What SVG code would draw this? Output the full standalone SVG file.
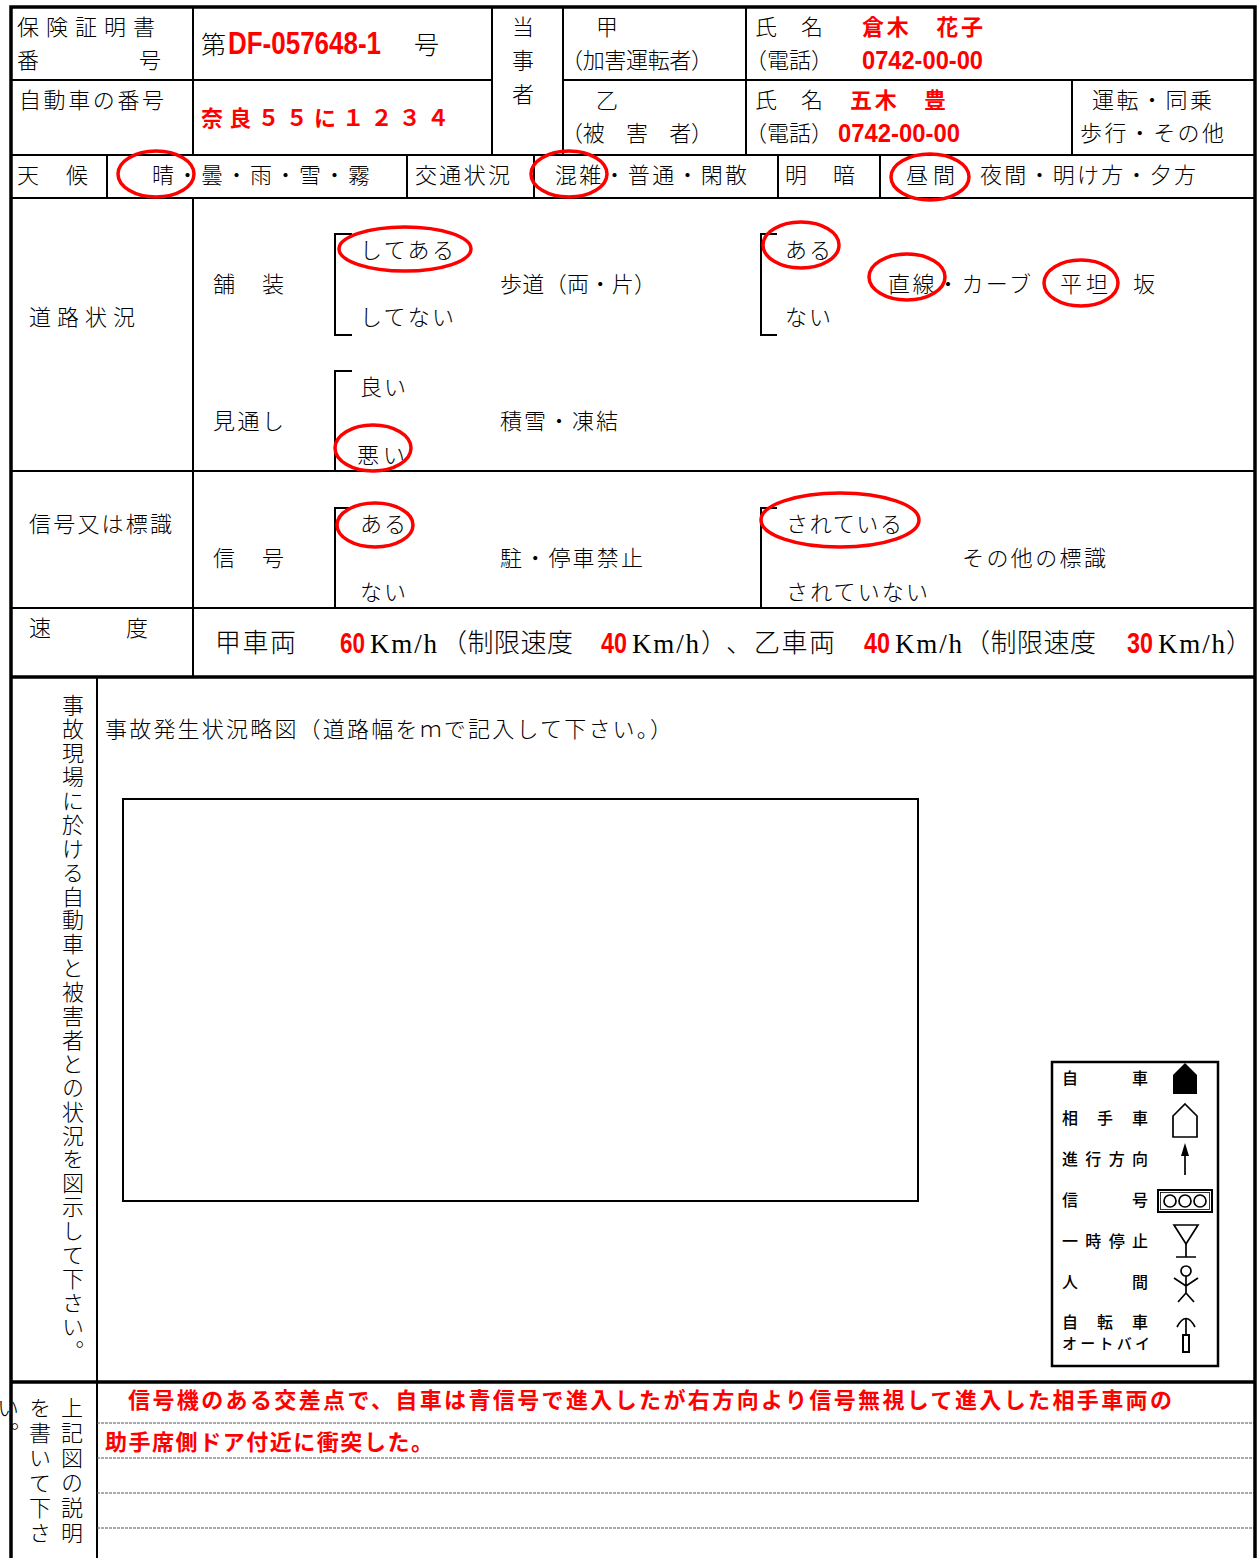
<svg xmlns="http://www.w3.org/2000/svg" width="1257" height="1558" viewBox="0 0 1257 1558">
<style>
.t{font-family:"Noto Sans CJK JP","Noto Sans",sans-serif;font-size:22px;font-weight:300;fill:#000}
.big{font-size:25px}
.s26{font-size:26px}
.rb{font-family:"Noto Sans CJK JP","Noto Sans",sans-serif;font-weight:700;fill:#f00;font-size:22px}
.nm{font-family:"Liberation Sans Narrow","Liberation Sans",sans-serif;font-weight:700;fill:#f00;font-size:29px}
.km{font-family:"Liberation Serif",serif;font-size:27px;fill:#000}
.lg{font-family:"Noto Sans CJK JP",sans-serif;font-size:16px;font-weight:500;fill:#000}
.v{writing-mode:vertical-rl}
.ln{stroke:#000;stroke-width:2;fill:none}
.tk{stroke:#000;stroke-width:3.5;fill:none}
.ov{fill:none;stroke:#f00;stroke-width:3.5}
.ds{stroke:#555;stroke-width:1;stroke-dasharray:3 1;fill:none}
.sym{fill:none;stroke:#000;stroke-width:1.7}
</style>
<rect width="1257" height="1558" fill="#fff"/>

<g id="rules">
  <line class="ln" x1="11" y1="80" x2="492" y2="80"/>
  <line class="ln" x1="563" y1="80" x2="1255" y2="80"/>
  <line class="ln" x1="11" y1="155" x2="1255" y2="155"/>
  <line class="ln" x1="11" y1="198" x2="1255" y2="198"/>
  <line class="ln" x1="11" y1="471" x2="1255" y2="471"/>
  <line class="ln" x1="11" y1="608" x2="1255" y2="608"/>
  <line class="tk" x1="11" y1="677" x2="1255" y2="677"/>
  <line class="tk" x1="11" y1="1382" x2="1255" y2="1382"/>
  <line class="ln" x1="193" y1="7" x2="193" y2="155"/>
  <line class="ln" x1="492" y1="7" x2="492" y2="155"/>
  <line class="ln" x1="563" y1="7" x2="563" y2="155"/>
  <line class="ln" x1="746" y1="7" x2="746" y2="155"/>
  <line class="ln" x1="1072" y1="80" x2="1072" y2="155"/>
  <line class="ln" x1="107" y1="155" x2="107" y2="198"/>
  <line class="ln" x1="407" y1="155" x2="407" y2="198"/>
  <line class="ln" x1="534" y1="155" x2="534" y2="198"/>
  <line class="ln" x1="778" y1="155" x2="778" y2="198"/>
  <line class="ln" x1="880" y1="155" x2="880" y2="198"/>
  <line class="ln" x1="193" y1="198" x2="193" y2="677"/>
  <line class="ln" x1="97" y1="677" x2="97" y2="1558"/>
  <line class="ds" x1="97" y1="1423" x2="1255" y2="1423"/>
  <line class="ds" x1="97" y1="1458" x2="1255" y2="1458"/>
  <line class="ds" x1="97" y1="1493" x2="1255" y2="1493"/>
  <line class="ds" x1="97" y1="1528" x2="1255" y2="1528"/>
  <path class="ln" d="M352,234 H335 V335 H352"/>
  <path class="ln" d="M352,371 H335 V471"/>
  <path class="ln" d="M352,508 H335 V608"/>
  <path class="ln" d="M777,234 H761 V335 H777"/>
  <path class="ln" d="M777,508 H761 V608"/>
  <rect class="ln" x="123" y="799" width="795" height="402"/>
</g>

<g id="header">
  <text class="t" x="17" y="35" letter-spacing="7">保険証明書</text>
  <text class="t" x="17" y="68">番</text>
  <text class="t" x="139" y="68">号</text>
  <text class="t big" x="201" y="54">第</text>
  <text class="nm" x="228" y="54" style="font-size:31px" textLength="153" lengthAdjust="spacingAndGlyphs">DF-057648-1</text>
  <text class="t big" x="414" y="54">号</text>
  <text class="t" x="19" y="108" textLength="145">自動車の番号</text>
  <text class="rb s26" x="201" y="126" textLength="248">奈良５５に１２３４</text>
  <text class="t" x="512" y="35">当</text>
  <text class="t" x="512" y="68">事</text>
  <text class="t" x="512" y="102">者</text>
  <text class="t" x="596" y="35">甲</text>
  <text class="t" x="561" y="68" textLength="152">（加害運転者）</text>
  <text class="t" x="596" y="108">乙</text>
  <text class="t" x="561" y="141" textLength="152">（被　害　者）</text>
  <text class="t" x="755" y="35" textLength="68">氏　名</text>
  <text class="rb" x="862" y="35" textLength="121">倉木　花子</text>
  <text class="t" x="745" y="68">（電話）</text>
  <text class="nm" x="862" y="69" style="font-size:26px" textLength="121" lengthAdjust="spacingAndGlyphs">0742-00-00</text>
  <text class="t" x="755" y="108" textLength="68">氏　名</text>
  <text class="rb" x="850" y="108" textLength="96">五木　豊</text>
  <text class="t" x="745" y="141">（電話）</text>
  <text class="nm" x="838" y="142" style="font-size:26px" textLength="122" lengthAdjust="spacingAndGlyphs">0742-00-00</text>
  <text class="t" x="1092" y="108" textLength="120">運転・同乗</text>
  <text class="t" x="1080" y="141" textLength="144">歩行・その他</text>
</g>

<g id="row-weather">
  <text class="t" x="17" y="183">天</text>
  <text class="t" x="66" y="183">候</text>
  <text class="t" x="152" y="183" textLength="218">晴・曇・雨・雪・霧</text>
  <text class="t" x="415" y="183" textLength="95">交通状況</text>
  <text class="t" x="555" y="183" textLength="192">混雑・普通・閑散</text>
  <text class="t" x="785" y="183">明</text>
  <text class="t" x="833" y="183">暗</text>
  <text class="t" x="906" y="183" textLength="49">昼間</text>
  <text class="t" x="980" y="183" textLength="216">夜間・明け方・夕方</text>
  <ellipse class="ov" cx="156" cy="174" rx="38" ry="23"/>
  <ellipse class="ov" cx="569" cy="174" rx="38" ry="23"/>
  <ellipse class="ov" cx="930" cy="177" rx="39" ry="23"/>
</g>

<g id="row-road">
  <text class="t" x="29" y="325" letter-spacing="6">道路状況</text>
  <text class="t" x="213" y="292">舗</text>
  <text class="t" x="262" y="292">装</text>
  <text class="t" x="360" y="258" textLength="94">してある</text>
  <text class="t" x="360" y="325" textLength="94">してない</text>
  <text class="t" x="500" y="292" textLength="156">歩道（両・片）</text>
  <text class="t" x="785" y="258" textLength="46">ある</text>
  <text class="t" x="785" y="325" textLength="46">ない</text>
  <text class="t" x="888" y="292" textLength="143">直線・カーブ</text>
  <text class="t" x="1060" y="292" textLength="48">平坦</text>
  <text class="t" x="1133" y="292">坂</text>
  <text class="t" x="213" y="429" textLength="71">見通し</text>
  <text class="t" x="360" y="395" textLength="46">良い</text>
  <text class="t" x="357" y="463" textLength="48">悪い</text>
  <text class="t" x="500" y="429" textLength="118">積雪・凍結</text>
  <ellipse class="ov" cx="405" cy="249" rx="66" ry="22"/>
  <ellipse class="ov" cx="801" cy="245" rx="38" ry="23"/>
  <ellipse class="ov" cx="907" cy="277" rx="38" ry="23"/>
  <ellipse class="ov" cx="1081" cy="283" rx="37" ry="23"/>
  <ellipse class="ov" cx="373" cy="448" rx="38" ry="23"/>
</g>

<g id="row-signal">
  <text class="t" x="29" y="532" textLength="143">信号又は標識</text>
  <text class="t" x="213" y="566">信</text>
  <text class="t" x="262" y="566">号</text>
  <text class="t" x="360" y="532" textLength="46">ある</text>
  <text class="t" x="360" y="600" textLength="46">ない</text>
  <text class="t" x="500" y="566" textLength="143">駐・停車禁止</text>
  <text class="t" x="786" y="532" textLength="116">されている</text>
  <text class="t" x="962" y="566" textLength="144">その他の標識</text>
  <text class="t" x="786" y="600" textLength="142">されていない</text>
  <ellipse class="ov" cx="375" cy="525" rx="38" ry="22"/>
  <ellipse class="ov" cx="840" cy="520" rx="79" ry="27"/>
</g>

<g id="row-speed">
  <text class="t" x="29" y="636">速</text>
  <text class="t" x="126" y="636">度</text>
  <text class="t s26" x="215" y="652" textLength="81">甲車両</text>
  <text class="nm" x="340" y="653" textLength="25" lengthAdjust="spacingAndGlyphs">60</text>
  <text class="km" x="370" y="653" textLength="67">Km/h</text>
  <text class="t s26" x="441" y="652" textLength="132">（制限速度</text>
  <text class="nm" x="601" y="653" textLength="26" lengthAdjust="spacingAndGlyphs">40</text>
  <text class="km" x="632" y="653" textLength="67">Km/h</text>
  <text class="t s26" x="701" y="652" textLength="51">）、</text>
  <text class="t s26" x="754" y="652" textLength="81">乙車両</text>
  <text class="nm" x="864" y="653" textLength="26" lengthAdjust="spacingAndGlyphs">40</text>
  <text class="km" x="895" y="653" textLength="67">Km/h</text>
  <text class="t s26" x="964" y="652" textLength="132">（制限速度</text>
  <text class="nm" x="1127" y="653" textLength="26" lengthAdjust="spacingAndGlyphs">30</text>
  <text class="km" x="1158" y="653" textLength="67">Km/h</text>
  <text class="t s26" x="1226" y="652">）</text>
</g>

<g id="diagram-area">
  <text class="t v" x="73" y="694" letter-spacing="1.9">事故現場に於ける自動車と被害者との状況を図示して下さい。</text>
  <text class="t" x="105" y="737" textLength="567">事故発生状況略図（道路幅をｍで記入して下さい。）</text>
</g>

<g id="legend">
  <rect x="1052" y="1062" width="166" height="304" fill="#fff" stroke="#000" stroke-width="2.5"/>
  <text class="lg" x="1062" y="1084">自</text><text class="lg" x="1132" y="1084">車</text>
  <text class="lg" x="1062" y="1124">相</text><text class="lg" x="1097" y="1124">手</text><text class="lg" x="1132" y="1124">車</text>
  <text class="lg" x="1062" y="1165" textLength="86">進行方向</text>
  <text class="lg" x="1062" y="1206">信</text><text class="lg" x="1132" y="1206">号</text>
  <text class="lg" x="1062" y="1247" textLength="86">一時停止</text>
  <text class="lg" x="1062" y="1288">人</text><text class="lg" x="1132" y="1288">間</text>
  <text class="lg" x="1062" y="1328">自</text><text class="lg" x="1097" y="1328">転</text><text class="lg" x="1132" y="1328">車</text>
  <text class="lg" x="1062" y="1349" style="font-size:15px" textLength="88">オートバイ</text>
  <path d="M1185,1063 L1197,1075 V1094 H1173 V1075 Z" fill="#000"/>
  <path class="sym" d="M1185,1104 L1197,1116 V1137 H1173 V1116 Z"/>
  <line class="sym" x1="1185" y1="1175" x2="1185" y2="1152"/>
  <path d="M1185,1143 L1189,1156 H1181 Z" fill="#000"/>
  <rect x="1158" y="1190" width="54" height="22" fill="none" stroke="#000" stroke-width="2"/>
  <rect x="1160.5" y="1192.5" width="49" height="17" fill="none" stroke="#000" stroke-width="0.8"/>
  <circle class="sym" cx="1170" cy="1201" r="6"/>
  <circle class="sym" cx="1185" cy="1201" r="6"/>
  <circle class="sym" cx="1200" cy="1201" r="6"/>
  <path class="sym" d="M1174,1225 H1198 L1186,1244 Z"/>
  <path class="sym" d="M1186,1244 V1257 M1176,1257 H1196"/>
  <circle class="sym" cx="1186" cy="1271" r="5"/>
  <path class="sym" d="M1186,1276 V1293 M1174,1278 L1186,1286 L1198,1278 M1186,1293 L1178,1302 M1186,1293 L1194,1302"/>
  <path class="sym" d="M1177,1327 Q1186,1310 1195,1327 M1186,1318 V1335"/>
  <rect x="1183" y="1335" width="6" height="17" fill="none" stroke="#000" stroke-width="2"/>
</g>

<g id="explanation">
  <text class="t v" x="72" y="1397" letter-spacing="3">上記図の説明</text>
  <text class="t v" x="40" y="1397" letter-spacing="3">を書いて下さ</text>
  <text class="t v" x="8" y="1397" letter-spacing="3">い。</text>
  <text class="rb" x="128" y="1408" textLength="1044">信号機のある交差点で、自車は青信号で進入したが右方向より信号無視して進入した相手車両の</text>
  <text class="rb" x="105" y="1450" textLength="328">助手席側ドア付近に衝突した。</text>
</g>

<g id="frame">
  <rect x="11" y="7" width="1244" height="1560" fill="none" stroke="#000" stroke-width="3.5"/>
</g>
</svg>
